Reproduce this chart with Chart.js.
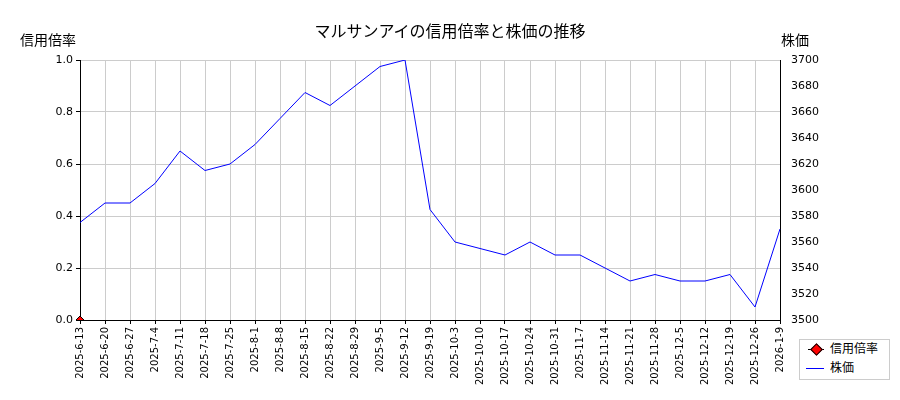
<!DOCTYPE html>
<html><head><meta charset="utf-8">
<script src="https://cdn.jsdelivr.net/npm/chart.js@4"></script>
<style>
body{margin:0;width:900px;height:400px;position:relative;font-family:"DejaVu Sans","Noto Sans CJK JP",sans-serif;background:#fff}
.t{position:absolute;font-size:14px;color:#000}
#lg{position:absolute;left:799px;top:339px;width:91px;height:41px;border:1px solid #ccc;font-size:12px;box-sizing:border-box;background:#fff}
#lg div{position:relative;height:19px;line-height:19px;padding-left:30px}
</style></head><body>
<canvas id="c" width="900" height="400" style="position:absolute;left:0;top:0"></canvas>
<div class="t" style="left:0;width:900px;text-align:center;top:18px;font-size:16px">マルサンアイの信用倍率と株価の推移</div>
<div class="t" style="left:20px;top:29px">信用倍率</div>
<div class="t" style="left:781px;top:29px">株価</div>
<div id="lg">
 <div><span style="position:absolute;left:8px;top:9px;width:16px;border-top:1px solid #000"></span><span style="position:absolute;left:12px;top:5px;width:7px;height:7px;background:red;border:1px solid #000;transform:rotate(45deg)"></span>信用倍率</div>
 <div><span style="position:absolute;left:6px;top:9px;width:18px;border-top:1px solid blue"></span>株価</div>
</div>
<script>
const labels=["2025-6-13","2025-6-20","2025-6-27","2025-7-4","2025-7-11","2025-7-18","2025-7-25","2025-8-1","2025-8-8","2025-8-15","2025-8-22","2025-8-29","2025-9-5","2025-9-12","2025-9-19","2025-10-3","2025-10-10","2025-10-17","2025-10-24","2025-10-31","2025-11-7","2025-11-14","2025-11-21","2025-11-28","2025-12-5","2025-12-12","2025-12-19","2025-12-26","2026-1-9"];
const price=[3575,3590,3590,3605,3630,3615,3620,3635,3655,3675,3665,3680,3695,3700,3585,3560,3555,3550,3560,3550,3550,3540,3530,3535,3530,3530,3535,3510,3570];
const ratio=[0].concat(Array(labels.length-1).fill(null));
new Chart(document.getElementById('c'),{type:'line',
data:{labels,datasets:[
{data:ratio,yAxisID:'y',borderColor:'#000',backgroundColor:'red',pointStyle:'rectRot',pointRadius:4,borderWidth:1},
{data:price,yAxisID:'y1',borderColor:'blue',borderWidth:1,pointRadius:0,tension:0}]},
options:{responsive:false,animation:false,
layout:{padding:{top:60,left:0,right:0,bottom:0}},
plugins:{legend:{display:false},tooltip:{enabled:false}},
scales:{
x:{offset:false,grid:{color:'#ccc',drawTicks:true,tickColor:'#000',tickLength:4},border:{color:'#000'},
 ticks:{color:'#000',font:{size:10,family:'DejaVu Sans'},maxRotation:90,minRotation:90,autoSkip:false},
 afterFit(s){s.height=80;}},
y:{position:'left',min:0,max:1,grid:{color:'#ccc',tickColor:'#000',tickLength:4},border:{color:'#000'},
 ticks:{stepSize:0.2,color:'#000',font:{size:11,family:'DejaVu Sans'},callback:v=>v.toFixed(1)},afterFit(s){s.width=80;}},
y1:{position:'right',min:3500,max:3700,grid:{display:false,drawOnChartArea:false},border:{color:'#000'},
 ticks:{stepSize:20,color:'#000',font:{size:11,family:'DejaVu Sans'},callback:v=>String(v)},afterFit(s){s.width=120;}}
}}});
</script></body></html>
